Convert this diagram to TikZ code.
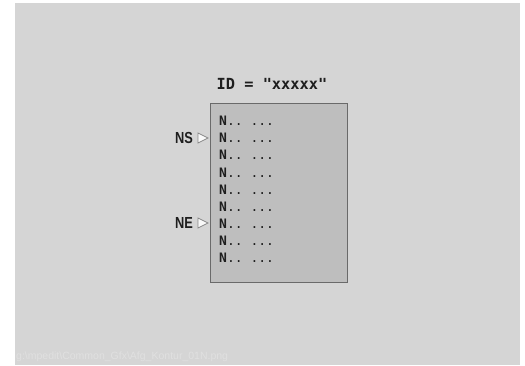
\documentclass[tikz,border=0pt]{standalone}
\usepackage{fontspec}
\setmainfont{Liberation Sans}
\setmonofont{DejaVu Sans Mono}
\newfontfamily\narrowsans[FakeStretch=0.8]{Liberation Sans}
\definecolor{bg}{HTML}{D5D5D5}
\definecolor{boxfill}{HTML}{BEBEBE}
\definecolor{boxline}{HTML}{6A6A6A}
\definecolor{ink}{HTML}{1E1E1E}
\definecolor{faint}{HTML}{E0E0E0}
\begin{document}
\begin{tikzpicture}[x=1pt,y=1pt,
  rowtext/.style={anchor=west,inner sep=0pt,text=ink,font=\ttfamily\fontsize{13}{14}\selectfont},
  sidelabel/.style={anchor=east,inner sep=0pt,text=ink,font=\narrowsans\bfseries\fontsize{16}{17}\selectfont},
  marker/.style={draw=boxline!80,fill=white!85!bg,line width=0.7pt,line join=miter}]
\useasboundingbox (0,0) rectangle (525,365);
\fill[white] (0,0) rectangle (525,365);
\fill[bg] (15,0) rectangle (520,362);
% main box
\node[draw=boxline,fill=boxfill,line width=1pt,minimum width=137pt,minimum height=179pt,inner sep=0pt,anchor=north west] (box) at (210,262) {};
% title
\node[text=ink,inner sep=0pt,font=\ttfamily\bfseries\fontsize{15.3}{16}\selectfont] (title) at (272,281) {ID = "xxxxx"};
% rows
\foreach \i in {0,...,8}{
  \node[rowtext] (r\i) at (219,{365-121-17.1*\i}) {\textbf{N}.. ...};
}
% side labels
\node[sidelabel] (ns) at (193,{365-138}) {NS};
\node[sidelabel] (ne) at (193,{365-223}) {NE};
\draw[marker] (198,{365-133}) -- (198,{365-143}) -- (208,{365-138}) -- cycle;
\draw[marker] (198,{365-218}) -- (198,{365-228}) -- (208,{365-223}) -- cycle;
% file name
\node[anchor=west,inner sep=0pt,text=faint,font=\fontsize{10.5}{11}\selectfont] (fname) at (16,{365-357}) {g:\textbackslash mpedit\textbackslash Common\_Gfx\textbackslash Afg\_Kontur\_01N.png};
\end{tikzpicture}
\end{document}
